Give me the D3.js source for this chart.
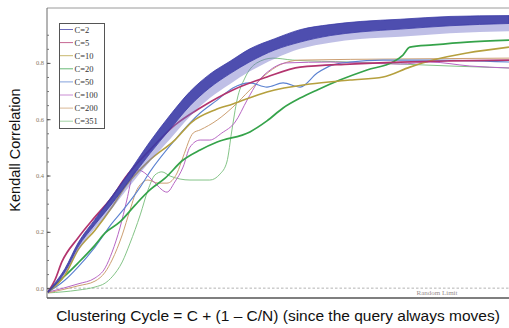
<!DOCTYPE html>
<html><head><meta charset="utf-8">
<script src="https://cdn.jsdelivr.net/npm/d3@7/dist/d3.min.js"></script>
<style>body{margin:0;background:#fff;}svg{display:block;}</style>
</head><body>
<script>
// ---- data; x in arbitrary cycle units 0..100 ----
const seriesNames = ["C=2","C=5","C=10","C=20","C=50","C=100","C=200","C=351"];
const seriesColors = ["#3b3ba6","#b3346e","#b5a03e","#35a34a","#5b82d1","#b866c4","#cc9f72","#84c487"];
const yTicks = [0.0,0.2,0.4,0.6,0.8];

const c2X     = [0,3.7,6.5,10.2,13.9,17.1,22.1,26.5,30.8,35.1,39.5,43.8,49.2,54.7,61.2,67.7,76.4,87.2,100];
const c2Upper = [-0.010,0.070,0.160,0.245,0.327,0.400,0.520,0.615,0.698,0.760,0.806,0.850,0.886,0.918,0.936,0.947,0.955,0.965,0.968];
const c2Lower = [-0.016,0.058,0.146,0.226,0.300,0.370,0.478,0.565,0.648,0.712,0.762,0.804,0.846,0.874,0.897,0.910,0.920,0.932,0.940];
// lowest reach of the downward spikes of C=2
const c2Spike = [-0.017,0.052,0.135,0.212,0.283,0.350,0.450,0.530,0.610,0.675,0.725,0.770,0.815,0.850,0.872,0.885,0.893,0.905,0.912];

const c5X = [0,1.5,3.0,6.5,10.2,13.9,16.7,22.1,27.5,33.0,40.1,47.5,54.7,65.5,76.4,87.2,100];
const c5Y = [-0.014,0.029,0.093,0.178,0.253,0.324,0.391,0.491,0.579,0.640,0.704,0.750,0.785,0.796,0.803,0.807,0.810];

const c10X = [0,3.7,6.5,10.2,13.9,16.7,22.1,27.5,31.2,36.2,40.1,47.5,56.8,65.5,72.7,78.5,83.5,90.9,100];
const c10Y = [-0.014,0.047,0.135,0.206,0.288,0.359,0.455,0.526,0.590,0.633,0.654,0.697,0.725,0.739,0.750,0.785,0.810,0.835,0.856];

const c20X = [0,3.0,6.5,10.2,12.4,15.6,18.9,22.1,25.4,29.3,33.0,36.7,43.8,47.5,51.0,54.7,58.4,63.3,69.2,74.8,77.0,78.5,83.5,90.9,100];
const c20Y = [-0.014,0.033,0.089,0.153,0.196,0.235,0.295,0.349,0.391,0.455,0.491,0.519,0.555,0.594,0.640,0.675,0.704,0.739,0.775,0.803,0.828,0.856,0.864,0.874,0.881];

const c50X = [0,3.7,6.5,10.2,13.9,16.3,20.0,22.1,27.5,33.0,36.7,40.1,43.8,47.5,51.0,54.7,58.4,61.8,65.5,72.7,82.9,100];
const c50Y = [-0.014,0.029,0.075,0.146,0.231,0.278,0.359,0.413,0.526,0.622,0.668,0.711,0.729,0.714,0.729,0.714,0.764,0.793,0.803,0.810,0.810,0.803];

const c100X = [0,6.5,10.2,12.4,13.9,15.6,17.1,18.4,19.5,21.0,23.2,25.8,27.5,29.3,30.8,33.0,35.1,37.7,40.6,43.2,45.5,48.2,51.8,61.2,67.7,76.4,82.9,91.5,100];
const c100Y = [-0.014,0.015,0.036,0.072,0.128,0.214,0.313,0.402,0.420,0.409,0.373,0.341,0.377,0.430,0.501,0.526,0.526,0.551,0.590,0.668,0.732,0.775,0.800,0.803,0.800,0.796,0.803,0.789,0.782];

const c200X = [0,6.5,10.2,12.4,13.9,16.1,17.8,19.5,21.7,23.9,25.8,28.0,29.3,31.5,33.0,36.7,40.1,43.8,47.1,50.3,54.7,76.4,100];
const c200Y = [-0.017,0.008,0.025,0.057,0.100,0.189,0.278,0.356,0.384,0.373,0.373,0.409,0.466,0.551,0.562,0.597,0.643,0.704,0.757,0.793,0.810,0.814,0.817];

const c351X = [0,6.5,10.2,12.4,13.9,16.1,17.8,20.0,21.7,23.2,24.7,26.5,30.8,35.1,37.3,38.8,39.9,41.0,42.7,45.3,48.8,53.1,65.5,76.4,87.2,100];
const c351Y = [-0.017,-0.007,0.004,0.018,0.040,0.093,0.160,0.260,0.349,0.402,0.413,0.398,0.384,0.384,0.405,0.448,0.562,0.668,0.746,0.800,0.817,0.810,0.803,0.796,0.789,0.782];

// ---- layout ----
const W = 509, H = 328;
const L = 47, T = 8, B = 298, R = 509;
const svg = d3.select("body").append("svg").attr("width", W).attr("height", H);

const x = d3.scaleLinear().domain([0,100]).range([48,509]);
const y = d3.scaleLinear().domain([-0.035,0.995]).range([B,T]);

// zero / random limit line
svg.append("line").attr("x1",L).attr("x2",R).attr("y1",y(0)).attr("y2",y(0))
  .attr("stroke","#a0a0a0").attr("stroke-width",0.8).attr("stroke-dasharray","2.5,2");
svg.append("text").attr("x",437).attr("y",y(0)+7).attr("text-anchor","middle")
  .attr("font-family","Liberation Serif, serif").attr("font-size",7).attr("fill","#9a8f8f").text("Random Limit");

const line = d3.line().x(d=>x(d[0])).y(d=>y(d[1])).curve(d3.curveMonotoneX);
const zip = (a,b)=>a.map((v,i)=>[v,b[i]]);

const thin = [
  [c351X,c351Y,7,1.0],
  [c200X,c200Y,6,1.0],
  [c100X,c100Y,5,1.0],
  [c50X,c50Y,4,1.1],
  [c20X,c20Y,3,1.7],
  [c10X,c10Y,2,1.6],
  [c5X,c5Y,1,1.7]
];
thin.forEach(([xs,ys,ci,w])=>{
  svg.append("path").datum(zip(xs,ys)).attr("d",line).attr("fill","none")
    .attr("stroke",seriesColors[ci]).attr("stroke-width",w).attr("stroke-linejoin","round");
});

// C=2 noisy band: faint spike envelope + dense core
const band = d3.area().x(d=>x(d[0])).y0(d=>y(d[1])).y1(d=>y(d[2])).curve(d3.curveMonotoneX);
svg.append("path").datum(c2X.map((v,i)=>[v,c2Spike[i],c2Lower[i]])).attr("d",band)
  .attr("fill","#7070c8").attr("fill-opacity",0.45);
svg.append("path").datum(c2X.map((v,i)=>[v,c2Lower[i],c2Upper[i]])).attr("d",band)
  .attr("fill",seriesColors[0]).attr("fill-opacity",0.9).attr("stroke",seriesColors[0]).attr("stroke-width",0.8);

// frame
svg.append("line").attr("x1",L).attr("x2",R).attr("y1",T).attr("y2",T).attr("stroke","#9a9a9a").attr("stroke-width",1);
svg.append("line").attr("x1",L).attr("x2",L).attr("y1",T).attr("y2",B).attr("stroke","#6a6a6a").attr("stroke-width",1);
svg.append("line").attr("x1",L).attr("x2",R).attr("y1",B).attr("y2",B).attr("stroke","#555").attr("stroke-width",1.6);

// y axis ticks (inside)
const gMinor = svg.append("g").attr("transform",`translate(${L},0)`)
  .call(d3.axisLeft(y).tickValues(d3.range(0,19).map(i=>i*0.05).filter(v=>v<=0.99)).tickSize(-2).tickFormat(""));
gMinor.select(".domain").remove();
gMinor.selectAll("line").attr("stroke","#777");
const gY = svg.append("g").attr("transform",`translate(${L},0)`)
  .call(d3.axisLeft(y).tickValues(yTicks).tickSize(-3.5).tickPadding(3).tickFormat(d3.format(".1f")));
gY.select(".domain").remove();
gY.selectAll("line").attr("stroke","#555");
gY.selectAll("text").attr("font-family","Liberation Serif, serif").attr("font-size",6.5).attr("fill","#8a7a62");

// axis titles
svg.append("text").attr("transform","translate(20,150) rotate(-90)").attr("text-anchor","middle")
  .attr("font-family","Liberation Sans, Arial, sans-serif").attr("font-size",14.5).attr("fill","#111").text("Kendall Correlation");
svg.append("text").attr("x",278).attr("y",321).attr("text-anchor","middle")
  .attr("font-family","Liberation Sans, Arial, sans-serif").attr("font-size",15.5).attr("fill","#111")
  .text("Clustering Cycle = C + (1 \u2013 C/N) (since the query always moves)");

// legend
const lg = svg.append("g");
lg.append("rect").attr("x",59.5).attr("y",23.5).attr("width",45).attr("height",105)
  .attr("fill","#fff").attr("stroke","#555").attr("stroke-width",1);
seriesNames.forEach((n,i)=>{
  const yy = 29.5 + i*13.1;
  lg.append("line").attr("x1",60).attr("x2",73).attr("y1",yy).attr("y2",yy)
    .attr("stroke",seriesColors[i]).attr("stroke-opacity",0.75).attr("stroke-width",1);
  lg.append("text").attr("x",74.5).attr("y",yy+3).attr("font-family","Liberation Serif, serif")
    .attr("font-size",8.5).attr("fill","#333").text(n);
});
</script>
</body></html>
